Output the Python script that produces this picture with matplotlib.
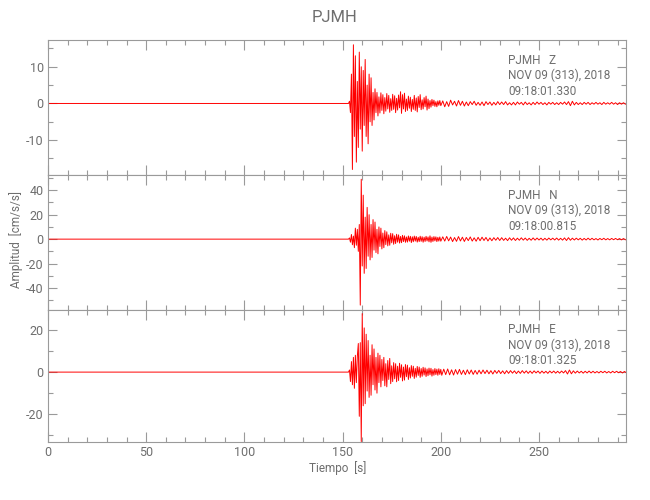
import numpy as np
import matplotlib
matplotlib.use("Agg")
import matplotlib.pyplot as plt
from matplotlib.ticker import MultipleLocator

# ---------------- data ----------------
station = "PJMH"
components = ["Z", "N", "E"]
date_label = "NOV 09 (313), 2018"
start_times = ["09:18:01.330", "09:18:00.815", "09:18:01.325"]

# quiet pre-event segment (s, value)
pre_t = [0.0, 153.0]
pre_vals = [0.0, 0.0]

# strong-motion part: peaks every 0.5 s starting at 153.5 s
event_start = 153.5
event_step = 0.5
z_event = [0.6, -2.5, 8, -18, 16, -9, 13, -16, 6, -12, 14, -7, 10, -13, 9, -6, 12, -9, 5, -11,
           8, -5, 7, -6, 3, -4.5, 4, -2.5, 3, -3.4, 1.8, -2.6, 2.9, -1.9, 2.4, -2.8, 1.6, -2.1,
           2.7, -1.5, 2.2, -2.4, 1.3, -1.9, 2.5, -1.6, 2.1, -2.5, 1.4, -1.8, 2.3, -1.2, 3.2, -2.7,
           2.4, -1.5, 2.8, -2.2, 1.2, -1.9, 2.0, -1.3, 1.7, -2.2, 1.1, -1.6, 2.2, -1.9, 1.5, -2.3,
           1.9, -1.1, 2.4, -1.7, 1.0, -1.5, 1.6, -0.9, 2.0, -1.8, 1.2, -1.4, 0.8, -1.0, 1.1, -0.6,
           0.9, -0.8, 0.5, -0.9, 0.7, -0.5, 0.8, -0.6]
n_event = [1, -2.5, 3.8, -4.6, 2.5, -7, 9, -5, 8, -10, 12, -54, 49, -22, 36, -28, 18, -24, 26, -14,
           20, -17, 12, -15, 16, -9, 14, -11, 8, -12, 10, -6, 9, -8, 5, -7, 7, -4.5, 6, -5.5,
           3.5, -5, 4.8, -3, 4.5, -4.2, 2.8, -3.6, 4, -2.5, 3.5, -3.2, 2.2, -2.9, 3.1, -2, 2.7,
           -2.6, 1.8, -2.4, 2.6, -1.7, 2.3, -2.8, 1.9, -2.1, 2.5, -1.6, 2.2, -2.4, 1.5, -2.0, 2.4,
           -1.8, 2.0, -2.5, 1.6, -1.9, 2.3, -1.5, 1.8, -2.2, 2.7, -2.6, 1.7, -1.9, 2.1, -1.4, 1.9,
           -2.0, 1.5, -1.6, 1.8, -1.7]
e_event = [1, -4.5, 5, -6, 7, -7.7, 8, -5, 7.5, 13.6, -21, 14, -33, 27.8, -16, 21, -15, 18, -9, 15,
           -12, 8, -11, 13, -6, 11, -8.5, 7, -10, 9, -5, 8, -7, 6, -4, 7, -6.5, 4, -7, 5.5,
           -3.5, 6.5, -5.5, 3, -4.5, 4.5, -3.2, 4, -4.6, 2.8, -4, 4.2, -2.5, 3.5, -4.2, 2.4, -3.8,
           3.6, -2.2, 3.3, -3.5, 2.1, -2.8, 3.1, -2.0, 2.8, -3, 1.8, -2.4, 2.7, -1.6, 2.4, -2.5,
           1.7, -2, 2.3, -1.4, 2, -2.1, 1.5, -1.7, 1.9, -1.3, 1.8, -1.9, 1.2, -1.5, 1.7, -1.2,
           1.4, -1.5, 1.6, -1.1, 1.3, -1.5]

# coda: peaks every 1.0 s after the strong-motion part
tail_step = 1.0
z_tail = [0.7, -0.9, 0.5, -0.8, 0.9, -0.4, 0.6, -0.7, 0.8, -0.5, 0.6, -0.7, 0.4, -0.6, 0.5, -0.3,
          0.6, -0.5, 0.3, -0.5, 0.4, -0.6, 0.5, -0.3, 0.4, -0.5, 0.3, -0.4, 0.5, -0.3, 0.4, -0.3,
          0.5, -0.4, 0.2, -0.4, 0.3, -0.4, 0.4, -0.2, 0.3, -0.4, 0.4, -0.3, 0.2, -0.4, 0.3, -0.3,
          0.4, -0.2, 0.3, -0.3, 0.2, -0.4, 0.3, -0.2, 0.3, -0.3, 0.2, -0.3, 0.3, -0.2, 0.4, -0.3,
          0.5, -0.6, 0.6, -0.4, 0.3, -0.3, 0.2, -0.3, 0.3, -0.2, 0.3, -0.3, 0.2, -0.2, 0.3, -0.2,
          0.2, -0.3, 0.3, -0.2, 0.2, -0.2, 0.3, -0.2, 0.2, -0.3, 0.2, -0.2, 0.2, -0.2]
n_tail = [1.9, -1.6, 2.2, -1.4, 1.7, -2.0, 1.3, -1.8, 2.1, -1.5, 1.6, -1.9, 1.4, -1.2, 1.8, -1.6,
          1.1, -1.7, 1.5, -1.3, 1.6, -1.1, 1.4, -1.5, 1.0, -1.3, 1.2, -0.9, 1.3, -1.1, 1.2, -1.0,
          0.8, -1.2, 1.1, -0.9, 1.0, -1.1, 0.8, -0.9, 1.1, -0.8, 0.9, -1.0, 0.7, -0.9, 1.0, -0.8,
          0.9, -0.7, 0.8, -0.9, 0.7, -0.8, 0.9, -0.6, 0.8, -0.7, 0.9, -0.8, 0.7, -0.8, 1.0, -1.1,
          1.2, -0.9, 0.8, -0.7, 0.8, -0.6, 0.7, -0.8, 0.6, -0.7, 0.8, -0.6, 0.7, -0.6, 0.5, -0.7,
          0.6, -0.5, 0.7, -0.6, 0.5, -0.6, 0.6, -0.5, 0.6, -0.5, 0.5, -0.6, 0.5, -0.5]
e_tail = [1.4, -1.2, 1.5, -1.3, 1.1, -1.4, 1.2, -1.0, 1.3, -1.1, 0.9, -1.2, 1.1, -0.9, 1.0, -1.1,
          0.8, -1.0, 0.9, -0.8, 1.0, -0.7, 0.9, -0.8, 0.7, -0.9, 0.8, -0.6, 0.8, -0.7, 0.6, -0.8,
          0.7, -0.6, 0.7, -0.5, 0.6, -0.7, 0.5, -0.6, 0.7, -0.5, 0.6, -0.6, 0.5, -0.6, 0.6, -0.4,
          0.5, -0.6, 0.5, -0.5, 0.4, -0.6, 0.5, -0.4, 0.5, -0.5, 0.4, -0.5, 0.5, -0.4, 0.7, -0.9,
          1.0, -0.8, 0.6, -0.5, 0.5, -0.4, 0.4, -0.5, 0.4, -0.4, 0.5, -0.4, 0.4, -0.4, 0.3, -0.4,
          0.4, -0.3, 0.4, -0.4, 0.3, -0.4, 0.4, -0.3, 0.4, -0.3, 0.3, -0.4, 0.3, -0.3]

y_limits = [(-19.5, 17.3), (-58.0, 52.5), (-33.2, 29.5)]
y_major = [10, 20, 20]
y_minor = [5, 10, 10]
x_max = 294.3

# ---------------- style ----------------
FONT = ["Roboto", "DejaVu Sans"]
TXT = "#6e6e6e"
AX = "#9a9a9a"
plt.rcParams["font.family"] = FONT
plt.rcParams["axes.unicode_minus"] = False

fig = plt.figure(figsize=(6.5, 5), dpi=100)
left, right = 48 / 650, 626 / 650
tops = [40, 175, 310]
bots = [175, 310, 442]

events = [z_event, n_event, e_event]
tails = [z_tail, n_tail, e_tail]

for i in range(3):
    y0 = 1 - bots[i] / 500
    h = (bots[i] - tops[i]) / 500
    ax = fig.add_axes([left, y0, right - left, h])
    ev = np.array(events[i], dtype=float)
    tl = np.array(tails[i], dtype=float)
    t_ev = event_start + event_step * np.arange(len(ev))
    t_tl = t_ev[-1] + tail_step * (1 + np.arange(len(tl)))
    t = np.concatenate([pre_t, t_ev, t_tl])
    v = np.concatenate([pre_vals, ev, tl])
    ax.plot(t, v, color="#ff0000", lw=0.7)
    ax.set_xlim(0, x_max)
    ax.set_ylim(*y_limits[i])
    ax.xaxis.set_major_locator(MultipleLocator(50))
    ax.xaxis.set_minor_locator(MultipleLocator(10))
    ax.yaxis.set_major_locator(MultipleLocator(y_major[i]))
    ax.yaxis.set_minor_locator(MultipleLocator(y_minor[i]))
    ax.tick_params(which="both", direction="in", top=True, right=True,
                   color=AX, labelcolor=TXT, labelsize=9, width=0.8, pad=3)
    ax.tick_params(which="major", length=7)
    ax.tick_params(which="minor", length=3.6)
    ax.tick_params(axis="y", which="major", length=6.5)
    for s in ax.spines.values():
        s.set_color(AX)
        s.set_linewidth(0.8)
    if i < 2:
        ax.tick_params(labelbottom=False)
    ax.text(0.796, 0.85, f"{station}   {components[i]}", transform=ax.transAxes,
            color=TXT, fontsize=8.5, va="center", ha="left")
    ax.text(0.796, 0.735, date_label, transform=ax.transAxes,
            color=TXT, fontsize=8.5, va="center", ha="left")
    ax.text(0.796, 0.615, start_times[i], transform=ax.transAxes,
            color=TXT, fontsize=8.5, va="center", ha="left")

fig.text(0.515, 0.964, station, ha="center", va="center", color=TXT, fontsize=12)
fig.text(0.024, 0.522, "Amplitud  [cm/s/s]", rotation=90, ha="center", va="center",
         color=TXT, fontsize=8.5)
fig.text(0.52, 0.064, "Tiempo  [s]", ha="center", va="center", color=TXT, fontsize=8.5)

fig.savefig("out.png", dpi=100)
